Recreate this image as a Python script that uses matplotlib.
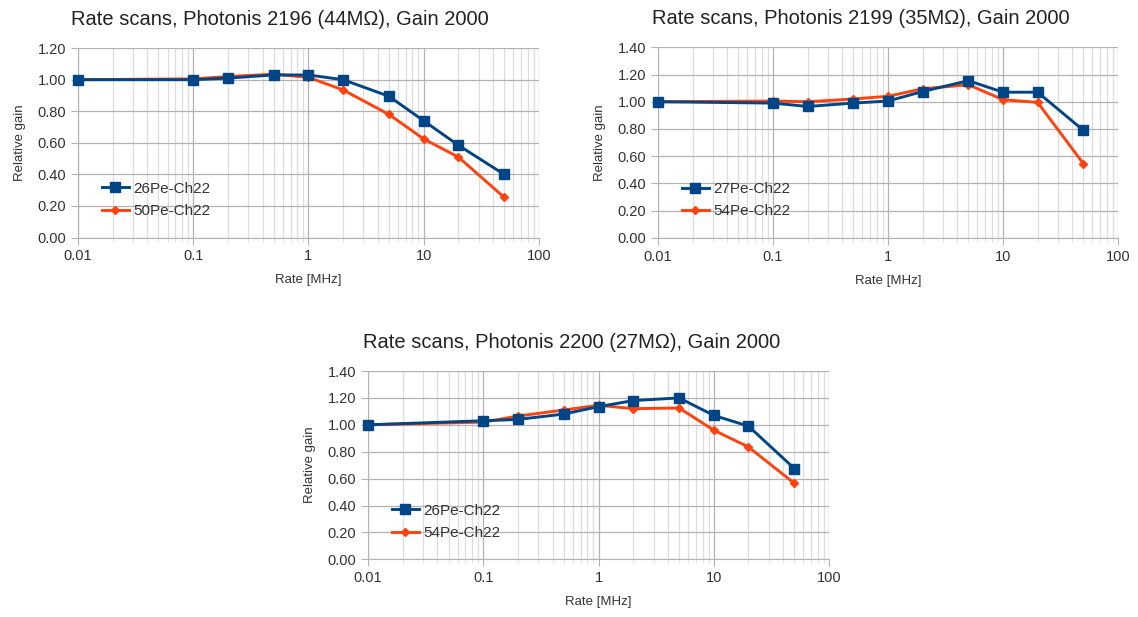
import matplotlib
matplotlib.use("Agg")
import matplotlib.pyplot as plt
from matplotlib.ticker import FixedLocator, LogLocator, NullFormatter, FixedFormatter

plt.rcParams['font.family'] = ['Liberation Sans', 'DejaVu Sans']

rate = [0.01, 0.1, 0.2, 0.5, 1, 2, 5, 10, 20, 50]

# Panel 1: Photonis 2196
p1_title = "Rate scans, Photonis 2196 (44MΩ), Gain 2000"
p1_names = ["26Pe-Ch22", "50Pe-Ch22"]
p1_a = [1.00, 1.00, 1.01, 1.03, 1.03, 1.00, 0.895, 0.74, 0.585, 0.40]
p1_b = [1.00, 1.005, 1.02, 1.035, 1.015, 0.935, 0.78, 0.625, 0.51, 0.255]
p1_ymax = 1.20

# Panel 2: Photonis 2199
p2_title = "Rate scans, Photonis 2199 (35MΩ), Gain 2000"
p2_names = ["27Pe-Ch22", "54Pe-Ch22"]
p2_a = [1.00, 0.99, 0.965, 0.99, 1.005, 1.075, 1.155, 1.07, 1.07, 0.79]
p2_b = [1.00, 1.005, 1.00, 1.02, 1.04, 1.095, 1.125, 1.015, 0.995, 0.545]
p2_ymax = 1.40

# Panel 3: Photonis 2200
p3_title = "Rate scans, Photonis 2200 (27MΩ), Gain 2000"
p3_names = ["26Pe-Ch22", "54Pe-Ch22"]
p3_a = [1.00, 1.03, 1.04, 1.08, 1.135, 1.18, 1.20, 1.07, 0.99, 0.675]
p3_b = [1.00, 1.02, 1.065, 1.11, 1.145, 1.12, 1.125, 0.96, 0.835, 0.565]
p3_ymax = 1.40

xticks = [0.01, 0.1, 1, 10, 100]
xtick_labels = ["0.01", "0.1", "1", "10", "100"]

BLUE = "#004586"
ORANGE = "#ff420e"
TXT = "#333333"

fig = plt.figure(figsize=(11.38, 6.17), dpi=100)


def panel(rect, title, names, a, b, ymax, title_x):
    ax = fig.add_axes(rect)
    ax.plot(rate, a, color=BLUE, lw=2.1, marker="s", ms=6.5, label=names[0], zorder=4,
            clip_on=False)
    ax.plot(rate, b, color=ORANGE, lw=2.1, marker="D", ms=4, label=names[1], zorder=3,
            clip_on=False)
    ax.set_xscale("log")
    ax.set_xlim(0.01, 100)
    ax.set_ylim(0, ymax)
    ax.xaxis.set_major_locator(FixedLocator(xticks))
    ax.xaxis.set_major_formatter(FixedFormatter(xtick_labels))
    ax.xaxis.set_minor_locator(LogLocator(base=10, subs=range(2, 10), numticks=20))
    ax.xaxis.set_minor_formatter(NullFormatter())
    yt = [round(0.2 * i, 2) for i in range(int(round(ymax / 0.2)) + 1)]
    ax.set_yticks(yt)
    ax.set_yticklabels([f"{v:.2f}" for v in yt])
    ax.grid(True, which="major", color="#b3b3b3", lw=0.9)
    ax.grid(True, which="minor", axis="x", color="#dddddd", lw=0.9)
    for s in ["top", "right"]:
        ax.spines[s].set_visible(False)
    for s in ["left", "bottom"]:
        ax.spines[s].set_color("#b3b3b3")
    ax.tick_params(which="major", length=5, color="#b3b3b3", labelsize=10.5, labelcolor=TXT)
    ax.tick_params(which="minor", length=3, color="#dddddd")
    ax.set_xlabel("Rate [MHz]", fontsize=9.5, color=TXT, labelpad=8)
    ax.set_ylabel("Relative gain", fontsize=9.5, color=TXT, labelpad=8)
    leg = ax.legend(loc="lower left", bbox_to_anchor=(0.022, 0.03), frameon=False,
                    fontsize=11, handlelength=1.75, handletextpad=0.3, labelspacing=0.55)
    for t in leg.get_texts():
        t.set_color(TXT)
    fig.text(title_x, rect[1] + rect[3] + 0.031, title, fontsize=14.5, color="#222222",
             ha="center", va="bottom")
    return ax


panel([0.0685, 0.615, 0.405, 0.307], p1_title, p1_names, p1_a, p1_b, p1_ymax, 0.246)
panel([0.5782, 0.6147, 0.4042, 0.3086], p2_title, p2_names, p2_a, p2_b, p2_ymax, 0.756)
panel([0.3234, 0.0935, 0.4051, 0.3052], p3_title, p3_names, p3_a, p3_b, p3_ymax, 0.502)

fig.savefig("out.png", dpi=100, facecolor="white")
